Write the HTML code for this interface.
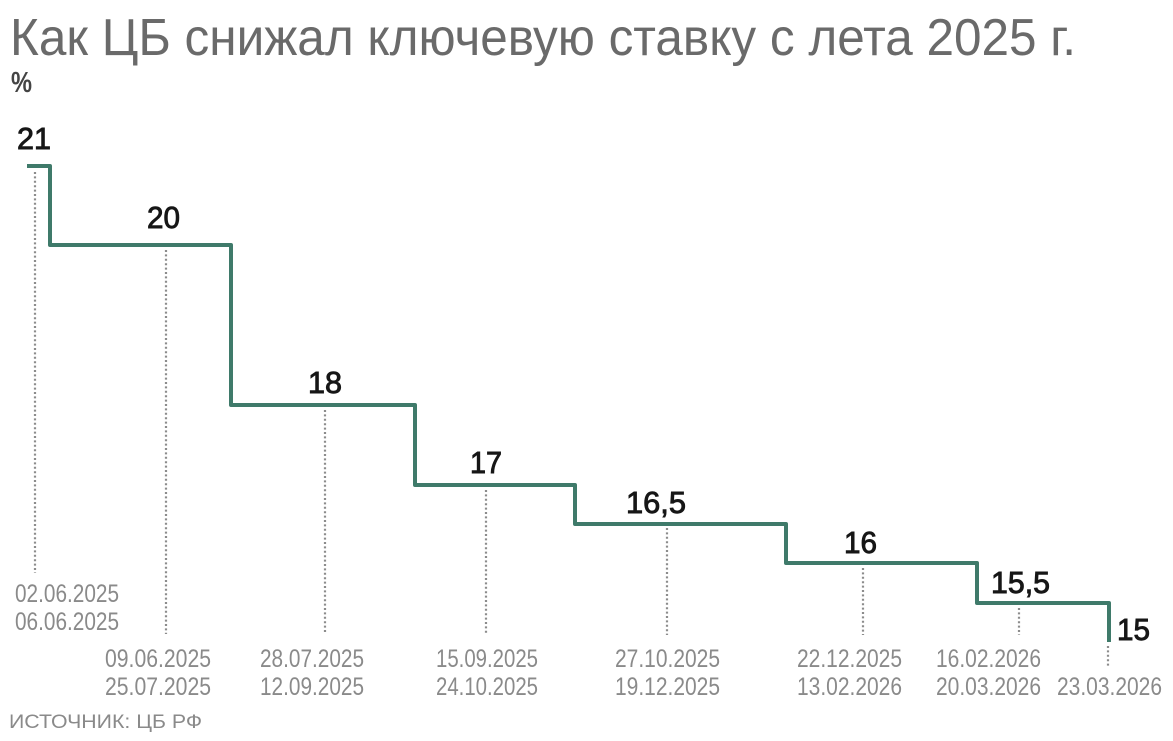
<!DOCTYPE html>
<html><head><meta charset="utf-8"><style>
html,body{margin:0;padding:0;background:#fff;}
svg{display:block;}
text{font-family:"Liberation Sans","Noto Sans CJK SC",sans-serif;}
</style></head><body>
<svg width="1173" height="741" viewBox="0 0 1173 741" xmlns="http://www.w3.org/2000/svg">
<rect width="1173" height="741" fill="#fff"/>
<text x="10" y="55" font-size="52" fill="#6a6a6a" textLength="1066" lengthAdjust="spacingAndGlyphs">Как ЦБ снижал ключевую ставку с лета 2025 г.</text>
<text x="11" y="92" font-size="29" fill="#444" font-weight="bold" textLength="21" lengthAdjust="spacingAndGlyphs">%</text>
<g stroke="#8c8c8c" stroke-width="2.2" stroke-dasharray="2 2.4" fill="none">
<line x1="35" y1="172" x2="35" y2="573"/>
<line x1="166" y1="250" x2="166" y2="634"/>
<line x1="325" y1="410" x2="325" y2="634"/>
<line x1="486" y1="490" x2="486" y2="634"/>
<line x1="667" y1="528" x2="667" y2="635"/>
<line x1="863" y1="568" x2="863" y2="635"/>
<line x1="1019" y1="608" x2="1019" y2="635"/>
<line x1="1108" y1="646" x2="1108" y2="668"/>
</g>
<path d="M27 166 H50 V245 H231 V405 H415 V485 H575 V524 H786 V563 H977 V603 H1109 V642" fill="none" stroke="#3f7a6a" stroke-width="4" stroke-linejoin="round"/>
<g font-size="31" fill="#161616" stroke="#161616" stroke-width="0.9">
<text x="17" y="149" textLength="34" lengthAdjust="spacingAndGlyphs">21</text>
<text x="147" y="228" textLength="33" lengthAdjust="spacingAndGlyphs">20</text>
<text x="308" y="393" textLength="34" lengthAdjust="spacingAndGlyphs">18</text>
<text x="470" y="473" textLength="32" lengthAdjust="spacingAndGlyphs">17</text>
<text x="626" y="513" textLength="60" lengthAdjust="spacingAndGlyphs">16,5</text>
<text x="844" y="553" textLength="33" lengthAdjust="spacingAndGlyphs">16</text>
<text x="991" y="593" textLength="59" lengthAdjust="spacingAndGlyphs">15,5</text>
<text x="1117" y="640" textLength="33" lengthAdjust="spacingAndGlyphs">15</text>
</g>
<g font-size="25" fill="#8a8a8a">
<text x="15" y="602" textLength="104" lengthAdjust="spacingAndGlyphs">02.06.2025</text>
<text x="15" y="630" textLength="104" lengthAdjust="spacingAndGlyphs">06.06.2025</text>
<text x="105" y="667" textLength="106" lengthAdjust="spacingAndGlyphs">09.06.2025</text>
<text x="105" y="695" textLength="106" lengthAdjust="spacingAndGlyphs">25.07.2025</text>
<text x="260" y="667" textLength="104" lengthAdjust="spacingAndGlyphs">28.07.2025</text>
<text x="260" y="695" textLength="104" lengthAdjust="spacingAndGlyphs">12.09.2025</text>
<text x="436" y="667" textLength="102" lengthAdjust="spacingAndGlyphs">15.09.2025</text>
<text x="436" y="695" textLength="102" lengthAdjust="spacingAndGlyphs">24.10.2025</text>
<text x="615" y="667" textLength="105" lengthAdjust="spacingAndGlyphs">27.10.2025</text>
<text x="615" y="695" textLength="105" lengthAdjust="spacingAndGlyphs">19.12.2025</text>
<text x="797" y="667" textLength="105" lengthAdjust="spacingAndGlyphs">22.12.2025</text>
<text x="797" y="695" textLength="105" lengthAdjust="spacingAndGlyphs">13.02.2026</text>
<text x="936" y="667" textLength="105" lengthAdjust="spacingAndGlyphs">16.02.2026</text>
<text x="936" y="695" textLength="105" lengthAdjust="spacingAndGlyphs">20.03.2026</text>
<text x="1057" y="695" textLength="105" lengthAdjust="spacingAndGlyphs">23.03.2026</text>
</g>
<text x="9" y="728" font-size="19" fill="#8a8a8a" textLength="193" lengthAdjust="spacingAndGlyphs">ИСТОЧНИК: ЦБ РФ</text>
</svg>
</body></html>
